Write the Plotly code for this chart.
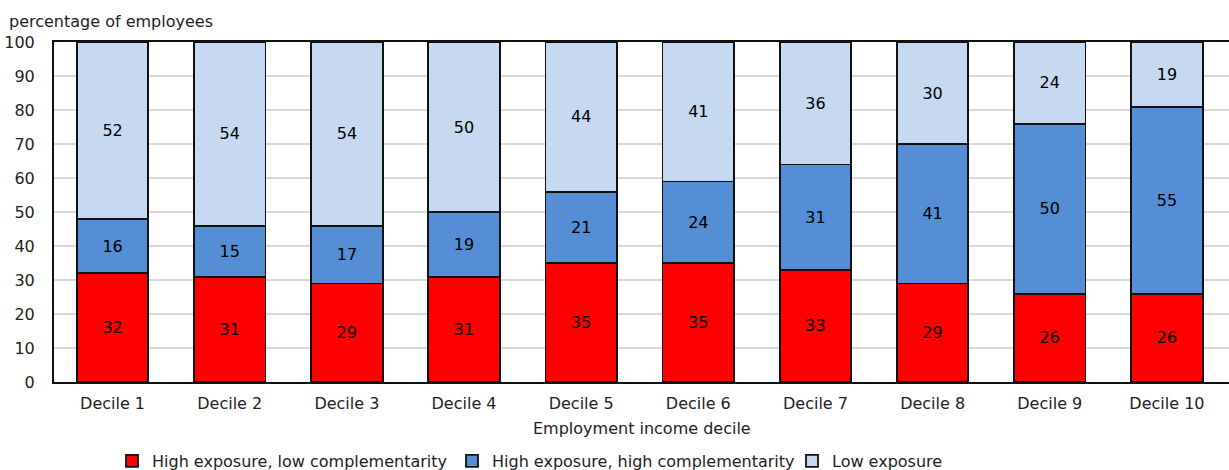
import plotly.graph_objects as go

categories = ["Decile 1", "Decile 2", "Decile 3", "Decile 4", "Decile 5",
              "Decile 6", "Decile 7", "Decile 8", "Decile 9", "Decile 10"]
high_low = [32, 31, 29, 31, 35, 35, 33, 29, 26, 26]
high_high = [16, 15, 17, 19, 21, 24, 31, 41, 50, 55]
low_exp = [52, 54, 54, 50, 44, 41, 36, 30, 24, 19]
y_ticks = [0, 10, 20, 30, 40, 50, 60, 70, 80, 90, 100]

FONT = "DejaVu Sans, Verdana, sans-serif"
FS = 16
series = [
    ("High exposure, low complementarity", high_low, "#FF0000"),
    ("High exposure, high complementarity", high_high, "#558ED5"),
    ("Low exposure", low_exp, "#C6D9F1"),
]

fig = go.Figure()
for name, vals, col in series:
    fig.add_trace(go.Bar(
        x=categories, y=vals, name=name,
        marker=dict(color=col, line=dict(color="#111111", width=1.8)),
        text=vals, texttemplate="%{text}", textposition="inside",
        insidetextanchor="middle", textangle=0,
        textfont=dict(color="black", size=FS, family=FONT),
        hoverinfo="skip",
    ))

fig.update_layout(
    barmode="stack", bargap=0.39,
    width=1229, height=470,
    margin=dict(l=54, r=0, t=42, b=88, autoexpand=False),
    plot_bgcolor="white", paper_bgcolor="white",
    font=dict(family=FONT, size=FS, color="#222222"),
    showlegend=True,
    legend=dict(orientation="h", x=112 / 1229, xref="container", xanchor="left",
                y=-0.232, yref="paper", yanchor="middle",
                entrywidth=295, entrywidthmode="pixels", itemwidth=30,
                font=dict(size=FS, family=FONT), traceorder="normal"),
    annotations=[
        dict(text="percentage of employees", x=0, xref="paper",
             xanchor="left", xshift=-47, y=1, yref="paper", yanchor="bottom",
             yshift=9, showarrow=False, font=dict(size=FS, family=FONT)),
        dict(text="Employment income decile", x=0.5, xref="paper", xanchor="center",
             y=-0.138, yref="paper", yanchor="middle", showarrow=False,
             font=dict(size=FS, family=FONT)),
    ],
)
fig.update_xaxes(
    range=[-0.5, 9.53], showline=True, linecolor="#111111", linewidth=2, mirror=True,
    ticks="outside", ticklen=6, tickcolor="white", showgrid=False,
    tickfont=dict(size=FS), automargin=False,
)
fig.update_yaxes(
    range=[0, 100], tickvals=y_ticks, showline=True, linecolor="#111111", linewidth=2,
    showgrid=True, gridcolor="#D9D9D9", gridwidth=1.5, zeroline=False,
    ticks="outside", ticklen=14, tickcolor="white", tickfont=dict(size=FS),
    automargin=False,
)
fig.write_html("out.html")
